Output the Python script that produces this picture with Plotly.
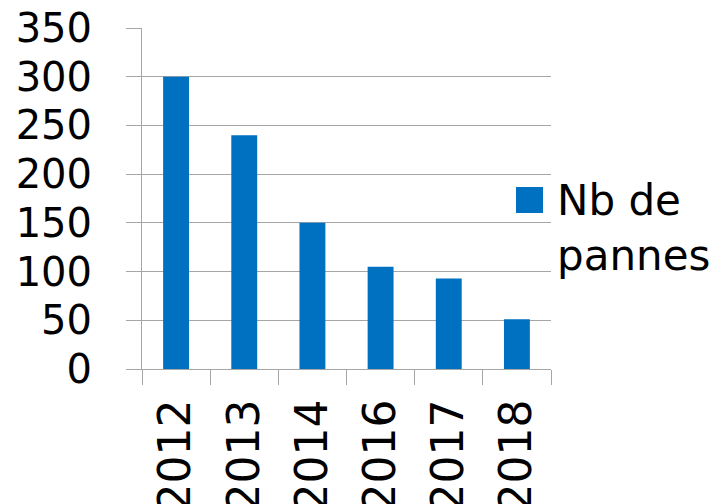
import plotly.graph_objects as go

years = ["2012", "2013", "2014", "2016", "2017", "2018"]
pannes = [300, 240, 150, 105, 93, 51]
series_name = "Nb de<br>pannes"
y_ticks = [0, 50, 100, 150, 200, 250, 300, 350]

BLUE = "#0070C0"
GRID = "#A6A6A6"
FONT = "DejaVu Sans"

fig = go.Figure()
fig.add_trace(go.Bar(x=years, y=pannes, marker=dict(color=BLUE, line=dict(width=0)),
                     name="Nb de pannes", showlegend=False))

# page body has an 8px default margin: compensate so the plot area lands where the reference has it
fig.update_layout(
    width=722, height=504,
    margin=dict(l=134, r=179, t=20, b=143, autoexpand=False),
    paper_bgcolor="white", plot_bgcolor="white",
    bargap=0.62,
    font=dict(family=FONT, color="black"),
    xaxis=dict(
        type="category", tickson="boundaries", ticks="outside", ticklen=15,
        tickcolor=GRID, tickwidth=1, showline=True, linecolor=GRID, linewidth=1,
        showgrid=False, tickangle=-90, tickfont=dict(size=44, family=FONT),
        ticklabelstandoff=12, automargin=False, ticklabeloverflow="allow",
    ),
    yaxis=dict(
        range=[0, 350], tickvals=y_ticks, ticks="outside", ticklen=15,
        tickcolor=GRID, showline=True, linecolor=GRID, linewidth=1,
        showgrid=True, gridcolor=GRID, gridwidth=1, zeroline=False,
        tickfont=dict(size=40, family=FONT), ticklabelstandoff=26, automargin=False,
        ticklabeloverflow="allow",
    ),
)

# legend drawn manually (large key)
fig.add_shape(type="rect", xref="paper", yref="paper",
              x0=0.9144, x1=0.9804, y0=0.4575, y1=0.5337,
              fillcolor=BLUE, line=dict(width=0))
fig.add_annotation(xref="paper", yref="paper", x=1.0098, y=0.4135,
                   xanchor="left", yanchor="middle", align="left",
                   text=series_name, showarrow=False,
                   font=dict(size=42, family=FONT, color="black"))

fig.write_html("out.html")
